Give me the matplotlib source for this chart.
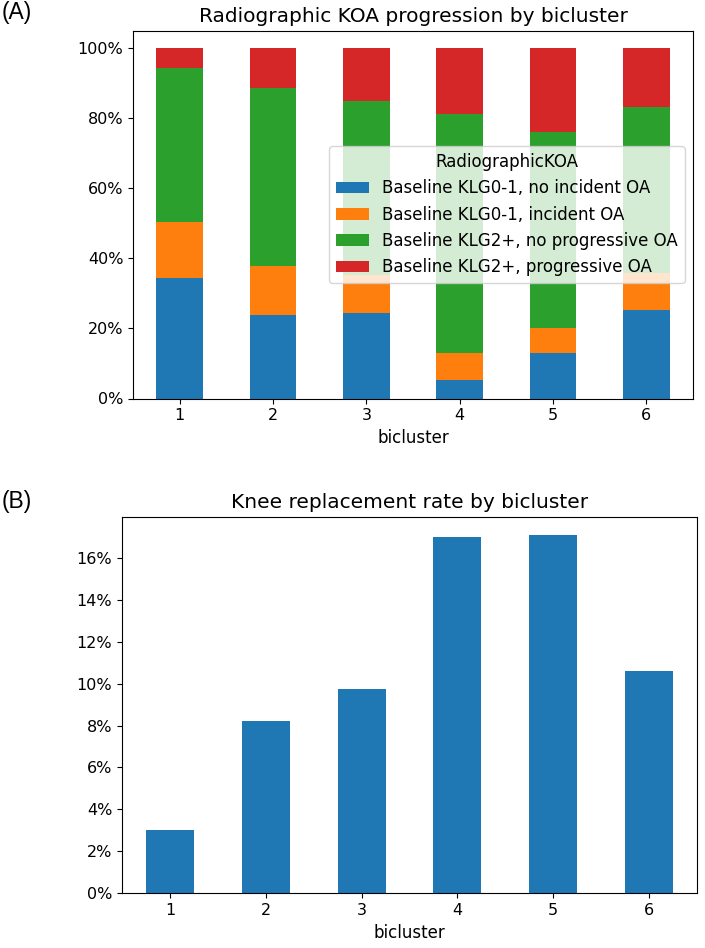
import matplotlib
matplotlib.use("Agg")
import matplotlib.pyplot as plt
from matplotlib.ticker import PercentFormatter, MultipleLocator
import numpy as np

biclusters = ["1", "2", "3", "4", "5", "6"]
koa_labels = ["Baseline KLG0-1, no incident OA",
              "Baseline KLG0-1, incident OA",
              "Baseline KLG2+, no progressive OA",
              "Baseline KLG2+, progressive OA"]
klg01_no_incident = [0.345, 0.238, 0.243, 0.054, 0.131, 0.252]
klg01_incident = [0.158, 0.140, 0.109, 0.077, 0.069, 0.107]
klg2_no_progressive = [0.440, 0.508, 0.496, 0.682, 0.560, 0.473]
klg2_progressive = [0.057, 0.114, 0.152, 0.187, 0.240, 0.168]
knee_replacement = [0.030, 0.082, 0.0976, 0.170, 0.171, 0.106]

colors = ["#1f77b4", "#ff7f0e", "#2ca02c", "#d62728"]

plt.rcParams["xtick.labelsize"] = 11.5
plt.rcParams["ytick.labelsize"] = 11.5
plt.rcParams["axes.labelsize"] = 12
plt.rcParams["axes.titlesize"] = 14.5

W, H = 705, 948
fig = plt.figure(figsize=(W / 100, H / 100), dpi=100)

# (A)
ax1 = fig.add_axes([133 / W, 1 - 398.5 / H, 560 / W, (398.5 - 30.5) / H])
x = np.arange(len(biclusters))
series = [klg01_no_incident, klg01_incident, klg2_no_progressive, klg2_progressive]
bottom = np.zeros(len(biclusters))
for vals, lab, c in zip(series, koa_labels, colors):
    ax1.bar(x, vals, width=0.5, bottom=bottom, color=c, label=lab)
    bottom += np.array(vals)
ax1.set_xlim(-0.5, len(biclusters) - 0.5)
ax1.set_ylim(0, 1.05)
ax1.set_xticks(x)
ax1.set_xticklabels(biclusters, rotation=0)
ax1.yaxis.set_major_locator(MultipleLocator(0.2))
ax1.yaxis.set_major_formatter(PercentFormatter(1, decimals=0))
ax1.set_xlabel("bicluster")
ax1.set_title("Radiographic KOA progression by bicluster")
ax1.legend(title="RadiographicKOA", loc="center right", fontsize=12, title_fontsize=12)

# (B)
ax2 = fig.add_axes([122 / W, 1 - 893.3 / H, 575 / W, (893.3 - 516.7) / H])
ax2.bar(x, knee_replacement, width=0.5, color=colors[0])
ax2.set_xlim(-0.5, len(biclusters) - 0.5)
ax2.set_ylim(0, max(knee_replacement) * 1.05)
ax2.set_xticks(x)
ax2.set_xticklabels(biclusters, rotation=0)
ax2.yaxis.set_major_locator(MultipleLocator(0.02))
ax2.yaxis.set_major_formatter(PercentFormatter(1, decimals=0))
ax2.set_xlabel("bicluster")
ax2.set_title("Knee replacement rate by bicluster")

fig.text(2 / W, 1 - 1 / H, "(A)", fontsize=16.5, family="Liberation Sans", va="top", ha="left")
fig.text(2 / W, 1 - 490 / H, "(B)", fontsize=16.5, family="Liberation Sans", va="top", ha="left")

fig.savefig("out.png", dpi=100)
